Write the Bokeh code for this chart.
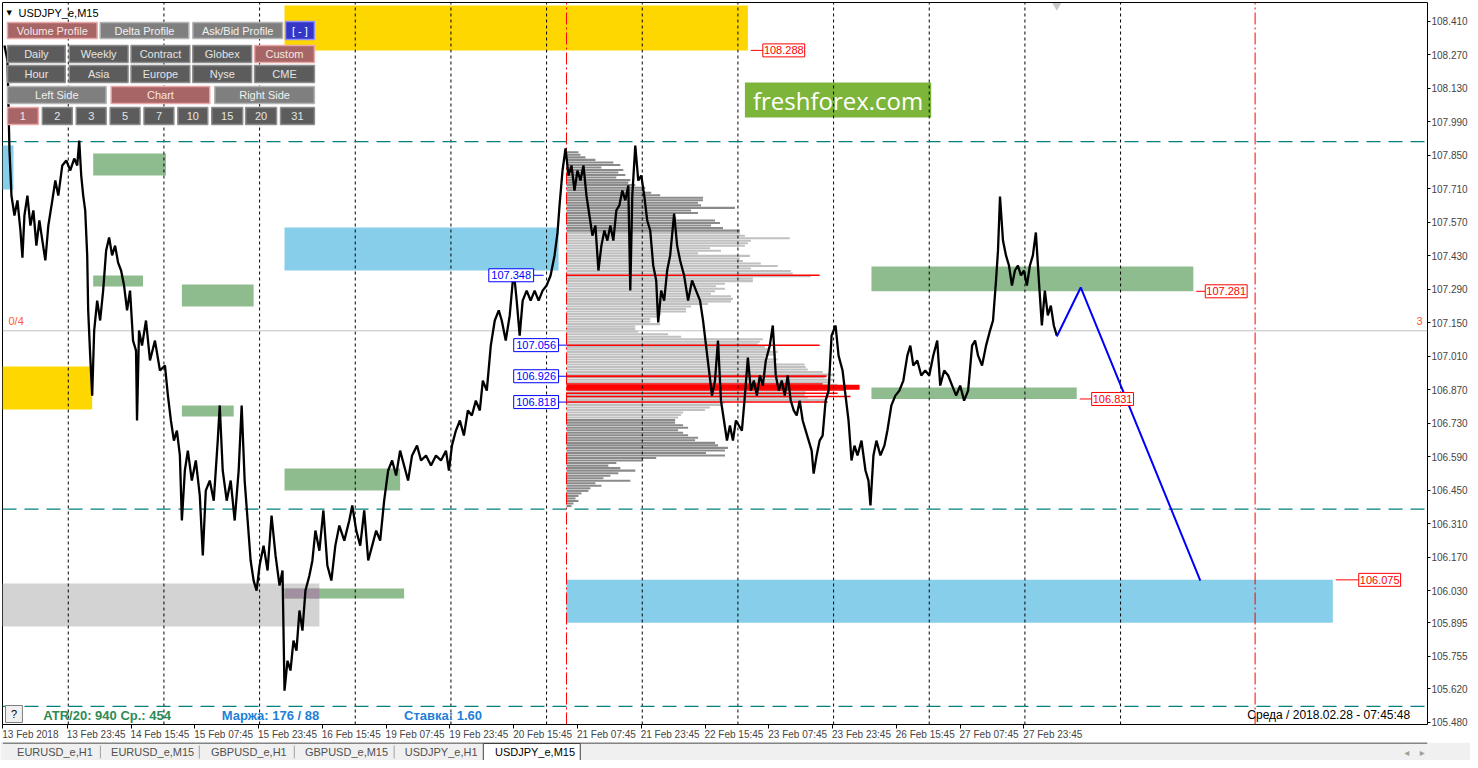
import numpy as np
from bokeh.plotting import figure
from bokeh.models import Range1d, FixedTicker, Label, PrintfTickFormatter, LinearAxis
from bokeh.layouts import column
from bokeh.embed import file_html
from bokeh.resources import INLINE
from bokeh.core.properties import value

# ---------------------------------------------------------------- data
price_ticks = [105.480, 105.620, 105.755, 105.895, 106.030, 106.170, 106.310, 106.450,
               106.590, 106.730, 106.870, 107.010, 107.150, 107.290, 107.430, 107.570,
               107.710, 107.850, 107.990, 108.130, 108.270, 108.410]
time_tick_bars = [0, 65, 129, 193, 257, 321, 385, 449, 513, 577, 641, 705, 769, 833, 897, 961, 1025]
time_tick_labels = ["13 Feb 2018", "13 Feb 23:45", "14 Feb 15:45", "15 Feb 07:45", "15 Feb 23:45",
                    "16 Feb 15:45", "19 Feb 07:45", "19 Feb 23:45", "20 Feb 15:45", "21 Feb 07:45",
                    "21 Feb 23:45", "22 Feb 15:45", "23 Feb 07:45", "23 Feb 23:45", "26 Feb 15:45",
                    "27 Feb 07:45", "27 Feb 23:45"]
day_sep_bars = [66, 162, 258, 354, 450, 546, 642, 738, 834, 930, 1026, 1122]
red_vline_bars = [566, 1257]

price_bars = [2,5,7,9,12,15,18,20,22,25,28,31,34,37,40,43,46,50,53,56,60,64,68,72,75,77,79,81,83,85,86,88,90,92,95,98,
              101,104,107,110,113,116,119,122,125,128,131,134,135,137,140,144,148,153,158,163,166,169,172,175,178,180,
              183,186,190,194,198,201,204,208,212,216,218,221,225,229,233,237,240,243,246,249,252,255,258,262,266,270,
              274,278,281,283,286,289,292,295,298,301,304,308,311,314,318,322,326,330,334,338,343,348,351,355,359,363,
              367,371,375,379,383,387,391,395,399,403,407,411,416,420,425,430,435,440,445,448,451,455,459,463,467,471,
              475,479,482,486,490,494,498,501,505,509,513,516,519,522,526,530,534,538,542,546,550,554,557,559,562,565,
              568,571,574,577,580,583,586,589,592,595,598,601,604,607,610,613,616,619,622,625,628,630,632,635,638,641,
              644,647,650,653,656,658,661,664,667,670,674,677,680,684,688,692,696,700,703,706,709,712,715,718,721,724,
              727,730,733,736,739,742,745,748,751,754,757,760,763,766,770,773,776,779,782,785,788,791,794,797,800,803,
              806,809,812,814,817,820,823,826,829,832,836,839,843,846,849,852,855,858,862,866,869,871,874,877,881,885,
              888,892,896,900,904,908,911,914,918,922,926,930,934,938,941,945,949,953,957,961,965,969,973,976,979,983,
              987,991,994,997,999,1001,1004,1007,1010,1013,1016,1019,1022,1025,1028,1031,1034,1037,1040,1043,1046,1049,
              1052,1055,1058]
price_vals = [108.308,108.246,107.870,107.681,107.598,107.661,107.535,107.422,107.598,107.681,107.556,107.619,107.472,
              107.577,107.493,107.410,107.556,107.661,107.744,107.681,107.807,107.828,107.786,107.836,107.807,107.911,
              107.765,107.681,107.619,107.431,107.201,107.012,106.845,107.117,107.242,107.159,107.284,107.452,107.506,
              107.431,107.472,107.401,107.368,107.305,107.201,107.284,107.075,107.033,106.741,107.117,107.054,107.159,
              106.992,107.075,106.950,106.971,106.845,106.741,106.657,106.699,106.595,106.323,106.532,106.615,106.490,
              106.574,106.427,106.177,106.448,106.490,106.406,106.657,106.804,106.532,106.406,106.490,106.323,106.532,
              106.804,106.490,106.323,106.156,106.072,106.030,106.135,106.218,106.114,106.344,106.177,106.051,106.114,
              105.612,105.737,105.696,105.821,105.779,105.947,105.863,106.030,106.093,106.156,106.281,106.197,106.365,
              106.135,106.072,106.218,106.302,106.239,106.323,106.386,106.281,106.218,106.365,106.156,106.218,106.281,
              106.239,106.406,106.532,106.574,106.511,106.615,106.553,106.490,106.595,106.636,106.574,106.595,106.553,
              106.595,106.574,106.615,106.532,106.636,106.699,106.741,106.678,106.783,106.762,106.824,106.783,106.908,
              106.866,107.054,107.159,107.201,107.159,107.075,107.180,107.368,107.242,107.096,107.242,107.284,107.242,
              107.284,107.242,107.284,107.305,107.347,107.431,107.527,107.640,107.786,107.878,107.765,107.807,107.702,
              107.786,107.744,107.807,107.681,107.598,107.514,107.556,107.368,107.472,107.535,107.493,107.556,107.493,
              107.619,107.640,107.702,107.661,107.723,107.284,107.681,107.890,107.744,107.765,107.681,107.577,107.535,
              107.389,107.326,107.151,107.284,107.242,107.368,107.431,107.606,107.472,107.410,107.347,107.242,107.326,
              107.284,107.242,107.159,107.054,106.950,106.845,106.908,107.075,106.824,106.741,106.657,106.720,106.657,
              106.741,106.720,106.699,106.845,107.004,106.866,106.908,106.845,106.929,106.887,106.992,107.054,107.138,
              106.929,106.866,106.908,106.845,106.929,106.824,106.783,106.762,106.824,106.741,106.699,106.657,106.615,
              106.519,106.595,106.657,106.678,106.824,106.866,107.096,107.138,107.012,106.950,106.845,106.741,106.574,
              106.636,106.595,106.657,106.532,106.490,106.386,106.595,106.657,106.595,106.636,106.699,106.804,106.845,
              106.866,106.908,107.012,107.054,106.971,106.992,106.929,106.950,106.929,107.012,107.075,106.887,106.950,
              106.929,106.887,106.845,106.887,106.824,106.866,107.054,107.075,107.012,106.971,107.054,107.117,107.159,
              107.326,107.452,107.677,107.493,107.431,107.389,107.305,107.368,107.389,107.347,107.368,107.305,107.389,
              107.431,107.527,107.326,107.138,107.284,107.180,107.221,107.138,107.096]

# zones (left bar, right bar, top price, bottom price, kind)
zone_left   = [283, 0, 0, 283, 566, 0, 91, 91, 180, 180, 283, 283, 872, 872]
zone_right  = [748, 90, 11, 558, 1335, 318, 164, 141, 252, 232, 399, 403, 1195, 1078]
zone_top    = [108.476, 106.967, 107.890, 107.548, 106.075, 106.060, 107.857, 107.347, 107.309, 106.804,
               106.540, 106.039, 107.385, 106.879]
zone_bottom = [108.288, 106.787, 107.707, 107.368, 105.896, 105.880, 107.765, 107.301, 107.217, 106.758,
               106.448, 105.997, 107.281, 106.831]
zone_kind   = ["gold", "gold", "sky", "sky", "sky", "gray", "green", "green", "green", "green",
               "green", "green", "green", "green"]

# volume profile
profile_start_bar = 566
profile_top = 107.862
profile_step = 0.01056
va_high, va_low = 107.525, 106.745
profile_volume = [12,14,19,29,47,54,35,57,52,59,50,64,62,69,79,77,85,94,137,137,132,135,169,125,132,107,110,149,154,
                  145,157,174,
                  174,179,224,185,182,179,144,155,132,184,174,177,195,212,185,225,227,245,187,187,159,150,159,149,145,
                  165,167,165,142,125,120,120,95,92,84,84,94,69,69,72,102,115,197,194,192,199,202,212,210,199,212,210,
                  239,240,242,257,269,259,269,265,272,272,252,240,239,242,259,159,155,144,139,117,115,
                  112,109,109,117,122,112,117,122,132,129,149,152,162,159,140,159,90,77,50,42,54,69,52,44,37,64,29,35,
                  24,22,15,12,9,12,7,5]
red_lvl_price = [107.348, 107.056, 106.926, 106.894, 106.884, 106.876, 106.868, 106.855, 106.841, 106.818]
red_lvl_end   = [820, 820, 827, 823, 860, 860, 845, 838, 851, 828]
red_lvl_width = [1.5, 1.5, 2, 1.5, 3, 3, 1.5, 1.5, 1.5, 1.5]

blue_lbl_price = [107.348, 107.056, 106.926, 106.818]
blue_lbl_shift = [-33, -8, -8, -8]          # box right edge relative to profile start

red_lbl_price = [108.288, 107.281, 106.831, 106.075]
red_lbl_zone = [0, 12, 13, 4]

axis_box_price = [107.907, 107.116, 106.371, 105.546]
axis_box_color = ["#008080", "#000000", "#008080", "#008080"]
teal_levels = [107.907, 106.371, 105.546]
current_price = 107.116

proj_bars = [1058, 1082, 1202]
proj_vals = [107.092, 107.297, 106.072]

tab_names = ["EURUSD_e,H1", "EURUSD_e,M15", "GBPUSD_e,H1", "GBPUSD_e,M15", "USDJPY_e,H1", "USDJPY_e,M15"]

# ---------------------------------------------------------------- helpers (reference pixel -> data)
PY = 0.0041797
def X(px):
    return px - 2
def Y(py):
    return 108.4965 - py * PY

FONT = "Liberation Sans"

p = figure(width=1470, height=742, output_backend="svg", toolbar_location=None,
           x_range=Range1d(X(2), X(1432)), y_range=Range1d(Y(724), Y(2)),
           y_axis_location="right", min_border_left=2, min_border_top=2,
           min_border_right=40, min_border_bottom=18)
p.grid.visible = False
p.outline_line_color = "black"
p.outline_line_width = 1
p.background_fill_color = "white"
p.border_fill_color = "white"

ya = p.yaxis[0]
ya.ticker = FixedTicker(ticks=price_ticks)
ya.formatter = PrintfTickFormatter(format="%.3f")
ya.major_tick_out = 3
ya.major_tick_in = 0
ya.minor_tick_line_color = None
ya.axis_line_color = None
ya.major_label_text_font = FONT
ya.major_label_text_font_size = "10px"
ya.major_label_standoff = 1
ya.major_tick_line_color = "black"

# time axis: tick marks on one axis, left-aligned labels (centred half a label further right) on a second
xa = p.xaxis[0]
xa.ticker = FixedTicker(ticks=time_tick_bars)
xa.major_label_overrides = {b: "" for b in time_tick_bars}
xa.major_tick_out = 4
xa.major_tick_in = 0
xa.minor_tick_line_color = None
xa.axis_line_color = None
xa.major_label_text_font_size = "1px"
xa.major_label_standoff = 0

half_w = [28 if s.endswith("2018") else 29 for s in time_tick_labels]
lab_pos = [b + h for b, h in zip(time_tick_bars, half_w)]
xb = LinearAxis(ticker=FixedTicker(ticks=lab_pos),
                major_label_overrides={q: s for q, s in zip(lab_pos, time_tick_labels)})
xb.major_tick_out = 0
xb.major_tick_in = 0
xb.major_tick_line_color = None
xb.minor_tick_line_color = None
xb.axis_line_color = None
xb.major_label_text_font = FONT
xb.major_label_text_font_size = "10px"
xb.major_label_standoff = 0
p.add_layout(xb, "below")

# zones
zone_colors = {"gold": "#FFD700", "sky": "#87CEEB", "gray": "#D3D3D3", "green": "#8FBC8F"}
p.quad(left=zone_left, right=zone_right, top=zone_top, bottom=zone_bottom,
       fill_color=[zone_colors[k] for k in zone_kind], line_color=None)
gi, ki = 5, 11
ol = max(zone_left[gi], zone_left[ki]); orr = min(zone_right[gi], zone_right[ki])
ot = min(zone_top[gi], zone_top[ki]); ob = max(zone_bottom[gi], zone_bottom[ki])
p.quad(left=[ol], right=[orr], top=[ot], bottom=[ob], fill_color="#A28FA0", line_color=None)

# watermark
p.quad(left=[X(747)], right=[X(934)], top=[Y(82)], bottom=[Y(117)], fill_color="#7DB53B", line_color=None)
p.text(x=[(X(747) + X(934)) / 2], y=[Y(100)], text=["freshforex.com"], text_font=value("Open Sans"),
       text_font_size="24px", text_color="white", text_align="center", text_baseline="middle")

# volume profile
n = len(profile_volume)
levels = [profile_top - i * profile_step for i in range(n)]
pcols = ["#C0C0C0" if va_low <= lv <= va_high else "#8A8A8A" for lv in levels]
p.hbar(y=levels, left=profile_start_bar, right=[profile_start_bar + v for v in profile_volume],
       height=profile_step * 0.82, fill_color=pcols, line_color=None)
p.segment(x0=[profile_start_bar] * len(red_lvl_price), y0=red_lvl_price, x1=red_lvl_end, y1=red_lvl_price,
          line_color="#FF0000", line_width=red_lvl_width)

# day separators and time markers
ytop, ybot = Y(2), Y(724)
p.segment(x0=day_sep_bars, y0=[ybot] * len(day_sep_bars), x1=day_sep_bars, y1=[ytop] * len(day_sep_bars),
          line_color="black", line_dash="3 3", line_width=1)
p.segment(x0=red_vline_bars, y0=[ybot] * 2, x1=red_vline_bars, y1=[ytop] * 2,
          line_color="#FF0000", line_dash="12 3 2 3", line_width=1)

# horizontal levels
p.segment(x0=[X(2)] * 3, y0=teal_levels, x1=[X(1432)] * 3, y1=teal_levels,
          line_color="#008080", line_dash="14 8", line_width=1.3)
p.segment(x0=[X(2)], y0=[current_price], x1=[X(1432)], y1=[current_price], line_color="#C0C0C0", line_width=1)

# price
m = min(len(price_bars), len(price_vals))
p.line(price_bars[:m], price_vals[:m], line_color="black", line_width=2.3)

# projection
p.line(proj_bars, proj_vals, line_color="#0000FF", line_width=2)

BH = 13 * PY / 2
# blue labels
bl_r = [profile_start_bar + s for s in blue_lbl_shift]
p.quad(left=[r - 45 for r in bl_r], right=bl_r, top=[v + BH for v in blue_lbl_price],
       bottom=[v - BH for v in blue_lbl_price], fill_color="white", line_color="#0000FF", line_width=1)
p.segment(x0=bl_r, y0=blue_lbl_price, x1=[min(r + 10, profile_start_bar) for r in bl_r], y1=blue_lbl_price,
          line_color="#0000FF", line_width=1)
p.text(x=[r - 22.5 for r in bl_r], y=blue_lbl_price, text=["%.3f" % v for v in blue_lbl_price],
       text_font=value(FONT), text_font_size="11px", text_color="#0000FF",
       text_align="center", text_baseline="middle")

# red labels
red_off = [15, 12, 15, 26]
rl_x = [zone_right[z] + o for z, o in zip(red_lbl_zone, red_off)]
p.segment(x0=[zone_right[z] + 3 for z in red_lbl_zone], y0=red_lbl_price, x1=rl_x, y1=red_lbl_price,
          line_color="#FF0000", line_width=1)
p.quad(left=rl_x, right=[x + 42 for x in rl_x], top=[v + BH for v in red_lbl_price],
       bottom=[v - BH for v in red_lbl_price], fill_color="white", line_color="#FF0000", line_width=1)
p.text(x=[x + 21 for x in rl_x], y=red_lbl_price, text=["%.3f" % v for v in red_lbl_price],
       text_font=value(FONT), text_font_size="11px", text_color="#FF0000",
       text_align="center", text_baseline="middle")

# texts near the price line
p.text(x=[X(8)], y=[Y(320)], text=["0/4"], text_font=value(FONT), text_font_size="11px",
       text_color="#FF5A36", text_align="left", text_baseline="middle")
p.text(x=[X(1427)], y=[Y(320)], text=["3"], text_font=value(FONT), text_font_size="11px",
       text_color="#FF5A36", text_align="right", text_baseline="middle")
p.scatter(x=[X(1060)], y=[Y(5)], marker="inverted_triangle", size=9, fill_color="#C8C8C8", line_color=None)

# top-left panel
p.text(x=[X(6)], y=[Y(12)], text=["\u25BC"], text_font=value("DejaVu Sans"), text_font_size="7px",
       text_color="black", text_align="left", text_baseline="middle")
p.text(x=[X(18)], y=[Y(12)], text=["USDJPY_e,M15"], text_font=value(FONT), text_font_size="11px",
       text_color="black", text_align="left", text_baseline="middle")
styles = {"active": ("#A86565", "#E8A8A8", "#F6E6E6"), "mid": ("#7F7F7F", "#B4B4B4", "#F0F0F0"),
          "dark": ("#5C5C5C", "#8C8C8C", "#E4E4E4"), "blue": ("#3535C8", "#9090FF", "#FFFFFF")}
buttons = [
    ("Volume Profile", 7, 97, 22, 38, "active"), ("Delta Profile", 100, 189, 22, 38, "mid"),
    ("Ask/Bid Profile", 193, 283, 22, 38, "mid"), ("[ - ]", 286, 315, 21, 39, "blue"),
    ("Daily", 7, 65, 45, 62, "dark"), ("Weekly", 69, 128, 45, 62, "dark"), ("Contract", 131, 190, 45, 62, "dark"),
    ("Globex", 193, 252, 45, 62, "dark"), ("Custom", 255, 315, 45, 62, "active"),
    ("Hour", 7, 65, 65, 82, "dark"), ("Asia", 69, 128, 65, 82, "dark"), ("Europe", 131, 190, 65, 82, "dark"),
    ("Nyse", 193, 252, 65, 82, "dark"), ("CME", 255, 315, 65, 82, "dark"),
    ("Left Side", 7, 106, 86, 103, "mid"), ("Chart", 111, 210, 86, 103, "active"),
    ("Right Side", 215, 315, 86, 103, "mid"),
    ("1", 7, 38, 107, 124, "active"), ("2", 42, 72, 107, 124, "dark"), ("3", 76, 106, 107, 124, "dark"),
    ("5", 110, 140, 107, 124, "dark"), ("7", 144, 174, 107, 124, "dark"), ("10", 178, 208, 107, 124, "dark"),
    ("15", 212, 243, 107, 124, "dark"), ("20", 246, 277, 107, 124, "dark"), ("31", 281, 315, 107, 124, "dark"),
]
p.quad(left=[X(b[1]) for b in buttons], right=[X(b[2]) for b in buttons],
       top=[Y(b[3]) for b in buttons], bottom=[Y(b[4]) for b in buttons],
       fill_color=[styles[b[5]][0] for b in buttons], line_color=[styles[b[5]][1] for b in buttons],
       line_width=1.5)
p.text(x=[(X(b[1]) + X(b[2])) / 2 for b in buttons], y=[(Y(b[3]) + Y(b[4])) / 2 for b in buttons],
       text=[b[0] for b in buttons], text_font=value(FONT), text_font_size="11px",
       text_color=[styles[b[5]][2] for b in buttons], text_align="center", text_baseline="middle")

# bottom info line
p.quad(left=[X(5)], right=[X(22)], top=[Y(705)], bottom=[Y(722)], fill_color="#F0F0F0", line_color="#808080")
p.text(x=[X(13.5)], y=[Y(713.5)], text=["?"], text_font=value(FONT), text_font_size="11px",
       text_color="black", text_align="center", text_baseline="middle")
p.text(x=[X(43)], y=[Y(715)], text=["ATR/20: 940  \u0421\u0440.: 454"], text_font=value(FONT),
       text_font_size="13px", text_font_style="bold", text_color="#2E8B57", text_align="left", text_baseline="middle")
p.text(x=[X(222), X(405)], y=[Y(715), Y(715)],
       text=["\u041c\u0430\u0440\u0436\u0430: 176 / 88", "\u0421\u0442\u0430\u0432\u043a\u0430: 1.60"],
       text_font=value(FONT), text_font_size="13px", text_font_style="bold", text_color="#1E7FD8",
       text_align="left", text_baseline="middle")
p.text(x=[X(1428)], y=[Y(714)], text=["\u0421\u0440\u0435\u0434\u0430  /  2018.02.28  -  07:45:48"],
       text_font=value(FONT), text_font_size="12px", text_color="black", text_align="right", text_baseline="middle")

# price boxes on the right scale
for v, c in zip(axis_box_price, axis_box_color):
    kw = dict(x=X(1433), y=v, text="%.3f" % v, text_font=FONT, text_font_size="10px", text_color="white",
              background_fill_color=c, text_baseline="middle", text_align="left")
    try:
        lab = Label(padding=2, **kw)
    except Exception:
        lab = Label(**kw)
    p.add_layout(lab)

# ---------------------------------------------------------------- tab bar
t = figure(width=1470, height=18, output_backend="svg", toolbar_location=None,
           x_range=Range1d(0, 1470), y_range=Range1d(760, 742), min_border=0)
t.axis.visible = False
t.grid.visible = False
t.outline_line_color = None
t.background_fill_color = "#F0F0F0"
t.border_fill_color = "#F0F0F0"
t.segment(x0=[0], y0=[742.5], x1=[1470], y1=[742.5], line_color="#606060", line_width=1.5)
t.quad(left=[496], right=[596], top=[743], bottom=[760], fill_color="white", line_color="#404040")
t.segment(x0=[101, 203, 301, 404], y0=[745] * 4, x1=[101, 203, 301, 404], y1=[758] * 4,
          line_color="#A0A0A0", line_width=1)
tab_x = [15, 112, 215, 312, 415, 508]
t.text(x=tab_x, y=[751.5] * 6, text=tab_names, text_font=value(FONT), text_font_size="11px",
       text_color=["#505050"] * 5 + ["black"], text_align="left", text_baseline="middle")
t.text(x=[1446, 1462], y=[751.5, 751.5], text=["\u25C2", "\u25B8"], text_font=value("DejaVu Sans"),
       text_font_size="10px", text_color="#A0A0A0", text_align="left", text_baseline="middle")

layout = column(p, t)
open("out.html", "w").write(file_html(layout, INLINE))
